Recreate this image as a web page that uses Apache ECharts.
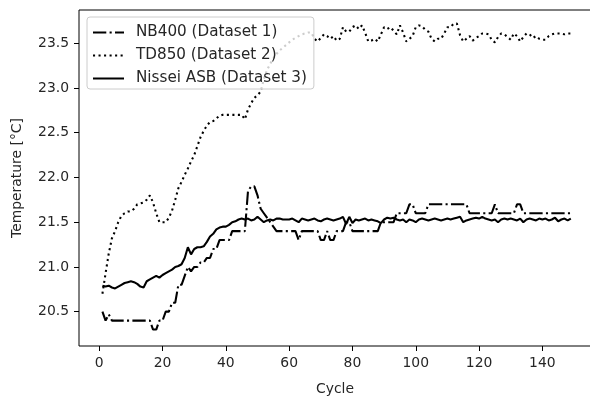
<!DOCTYPE html>
<html>
<head>
<meta charset="utf-8">
<script src="https://cdn.jsdelivr.net/npm/echarts@6/dist/echarts.min.js"></script>
<style>
html,body{margin:0;padding:0;background:#fff;overflow:hidden;}
#chart{width:596px;height:397px;}
</style>
</head>
<body>
<div id="chart"></div>
<script>
const seriesNames = ['NB400 (Dataset 1)', 'TD850 (Dataset 2)', 'Nissei ASB (Dataset 3)'];
const xTicks = [0, 20, 40, 60, 80, 100, 120, 140];
const yTicks = [20.5, 21.0, 21.5, 22.0, 22.5, 23.0, 23.5];
const firstCycle = 1;

const nb400 = [
  20.5, 20.4, 20.47, 20.4, 20.4, 20.4, 20.4, 20.4, 20.4, 20.4,
  20.4, 20.4, 20.4, 20.4, 20.4, 20.4, 20.3, 20.3, 20.4, 20.4,
  20.5, 20.5, 20.6, 20.6, 20.8, 20.8, 20.9, 21.0, 20.95, 21.0,
  21.0, 21.05, 21.05, 21.1, 21.1, 21.2, 21.2, 21.3, 21.3, 21.3,
  21.3, 21.4, 21.4, 21.4, 21.4, 21.4, 21.85, 21.9, 21.9, 21.8,
  21.65, 21.6, 21.55, 21.5, 21.45, 21.4, 21.4, 21.4, 21.4, 21.4,
  21.4, 21.4, 21.3, 21.4, 21.4, 21.4, 21.4, 21.4, 21.4, 21.3,
  21.3, 21.4, 21.3, 21.3, 21.4, 21.4, 21.4, 21.5, 21.5, 21.4,
  21.4, 21.4, 21.4, 21.4, 21.4, 21.4, 21.4, 21.4, 21.5, 21.5,
  21.5, 21.5, 21.5, 21.6, 21.6, 21.6, 21.6, 21.7, 21.7, 21.6,
  21.6, 21.6, 21.6, 21.7, 21.7, 21.7, 21.7, 21.7, 21.7, 21.7,
  21.7, 21.7, 21.7, 21.7, 21.7, 21.7, 21.6, 21.6, 21.6, 21.6,
  21.6, 21.6, 21.6, 21.6, 21.7, 21.6, 21.6, 21.6, 21.6, 21.6,
  21.6, 21.7, 21.7, 21.6, 21.6, 21.6, 21.6, 21.6, 21.6, 21.6,
  21.6, 21.6, 21.6, 21.6, 21.6, 21.6, 21.6, 21.6, 21.6
];

const td850 = [
  20.7, 20.93, 21.15, 21.32, 21.4, 21.5, 21.57, 21.6, 21.62, 21.62,
  21.65, 21.7, 21.71, 21.72, 21.75, 21.8, 21.72, 21.6, 21.5, 21.5,
  21.5, 21.55, 21.63, 21.75, 21.88, 21.95, 22.03, 22.1, 22.18, 22.25,
  22.35, 22.45, 22.52, 22.58, 22.62, 22.63, 22.66, 22.69, 22.7, 22.7,
  22.7, 22.7, 22.7, 22.7, 22.7, 22.65, 22.76, 22.83, 22.89, 22.92,
  22.96, 23.1, 23.2, 23.27, 23.33, 23.38, 23.42, 23.45, 23.48, 23.51,
  23.54, 23.56, 23.58, 23.6, 23.61, 23.62, 23.62, 23.55, 23.52, 23.56,
  23.6, 23.58, 23.55, 23.58, 23.53, 23.55, 23.68, 23.63, 23.63, 23.68,
  23.7, 23.66, 23.7, 23.62, 23.52, 23.53, 23.55, 23.52, 23.6, 23.68,
  23.66, 23.68, 23.64, 23.6, 23.7, 23.62, 23.52, 23.55, 23.58, 23.68,
  23.7, 23.69, 23.65, 23.63, 23.55, 23.52, 23.55, 23.55, 23.61, 23.68,
  23.68, 23.72, 23.72, 23.59, 23.52, 23.55, 23.58, 23.53, 23.56, 23.58,
  23.61, 23.61, 23.6, 23.54, 23.51, 23.57, 23.61, 23.6, 23.57, 23.54,
  23.61, 23.58, 23.52, 23.57, 23.61, 23.6, 23.56, 23.58, 23.55, 23.54,
  23.54, 23.58, 23.6, 23.61, 23.61, 23.61, 23.6, 23.61, 23.61
];

const nissei = [
  20.79, 20.78, 20.79, 20.77, 20.76, 20.78, 20.8, 20.82, 20.83, 20.84,
  20.83, 20.81, 20.78, 20.77, 20.84, 20.86, 20.88, 20.9, 20.88, 20.91,
  20.93, 20.95, 20.97, 21.0, 21.01, 21.03, 21.1, 21.22, 21.14, 21.2,
  21.22, 21.22, 21.23, 21.28, 21.34, 21.37, 21.42, 21.44, 21.45, 21.45,
  21.47, 21.5, 21.51, 21.53, 21.54, 21.53, 21.54, 21.52, 21.53, 21.56,
  21.53, 21.5, 21.52, 21.53, 21.52, 21.54, 21.54, 21.53, 21.53, 21.53,
  21.54, 21.52, 21.5, 21.54, 21.53, 21.52, 21.53, 21.54, 21.52, 21.51,
  21.53, 21.54, 21.53, 21.52, 21.53, 21.54, 21.56, 21.48, 21.56, 21.49,
  21.53, 21.52, 21.53, 21.54, 21.52, 21.53, 21.52, 21.51, 21.49, 21.53,
  21.55, 21.54, 21.55, 21.53, 21.52, 21.53, 21.5, 21.53, 21.52, 21.5,
  21.53, 21.54, 21.53, 21.52, 21.53, 21.54, 21.53, 21.52, 21.53, 21.54,
  21.53, 21.54, 21.55, 21.56, 21.5, 21.52, 21.53, 21.54, 21.55, 21.54,
  21.56, 21.54, 21.53, 21.52, 21.53, 21.5, 21.53, 21.54, 21.53, 21.54,
  21.53, 21.52, 21.54, 21.5, 21.53, 21.54, 21.53, 21.52, 21.54, 21.53,
  21.54, 21.52, 21.53, 21.55, 21.51, 21.53, 21.54, 21.52, 21.54
];

const toPairs = arr => arr.map((v, i) => [i + firstCycle, v]);

const FONT = 'DejaVu Sans';
const FS = 13.9;
const LFS = 15.2;
const TXT = '#262626';
const LW = 2.08;
const X_MIN = -6.4, X_MAX = 155.37;

const chart = echarts.init(document.getElementById('chart'), null, {renderer: 'canvas'});
chart.setOption({
  animation: false,
  backgroundColor: '#ffffff',
  textStyle: {fontFamily: FONT},
  grid: {
    left: 79, right: 5, top: 10, bottom: 51,
    containLabel: false, outerBoundsMode: 'none',
    show: true, borderColor: '#000', borderWidth: 1, backgroundColor: 'transparent'
  },
  legend: {
    orient: 'vertical',
    left: 87,
    top: 17,
    padding: [8, 7, 3, 5],
    itemWidth: 31,
    itemHeight: 15,
    itemGap: 8,
    backgroundColor: 'rgba(255,255,255,0.8)',
    borderColor: '#cccccc',
    borderWidth: 1,
    borderRadius: 3,
    itemStyle: {opacity: 0},
    formatter: name => '{t|' + name + '}',
    textStyle: {
      fontFamily: FONT, fontSize: LFS, color: TXT,
      rich: {t: {fontFamily: FONT, fontSize: LFS, color: TXT, padding: [0, 0, 0, 7]}}
    },
    data: seriesNames,
    z: 10
  },
  xAxis: {
    type: 'value',
    position: 'bottom',
    min: X_MIN,
    max: X_MAX,
    name: 'Cycle',
    nameLocation: 'middle',
    nameGap: 36,
    nameTextStyle: {fontFamily: FONT, fontSize: FS, color: TXT},
    axisLine: {show: false, onZero: false},
    axisTick: {show: true, length: 5, customValues: xTicks, lineStyle: {color: '#000', width: 1}},
    axisLabel: {show: true, customValues: xTicks, margin: 10, fontFamily: FONT, fontSize: FS, color: TXT},
    splitLine: {show: false}
  },
  yAxis: {
    type: 'value',
    position: 'left',
    min: 20.116,
    max: 23.872,
    name: 'Temperature [°C]',
    nameLocation: 'middle',
    nameGap: 55,
    nameRotate: 90,
    nameTextStyle: {fontFamily: FONT, fontSize: FS, color: TXT},
    axisLine: {show: false, onZero: false},
    axisTick: {show: true, length: 5, customValues: yTicks, lineStyle: {color: '#000', width: 1}},
    axisLabel: {show: true, customValues: yTicks, margin: 10, fontFamily: FONT, fontSize: FS, color: TXT,
      formatter: v => Number(v).toFixed(1)},
    splitLine: {show: false}
  },
  series: [{
    name: seriesNames[0],
    type: 'line',
    data: toPairs(nb400),
    symbol: 'none',
    lineStyle: {color: '#000', width: LW, type: [13.3, 3.3, 2.1, 3.3], cap: 'butt'},
    itemStyle: {color: '#000'},
    z: 3
  }, {
    name: seriesNames[1],
    type: 'line',
    data: toPairs(td850),
    symbol: 'none',
    lineStyle: {color: '#000', width: LW, type: [2.08, 3.44], cap: 'butt'},
    itemStyle: {color: '#000'},
    z: 3
  }, {
    name: seriesNames[2],
    type: 'line',
    data: toPairs(nissei),
    symbol: 'none',
    lineStyle: {color: '#000', width: LW, type: 'solid'},
    itemStyle: {color: '#000'},
    z: 3
  }]
});
</script>
</body>
</html>
